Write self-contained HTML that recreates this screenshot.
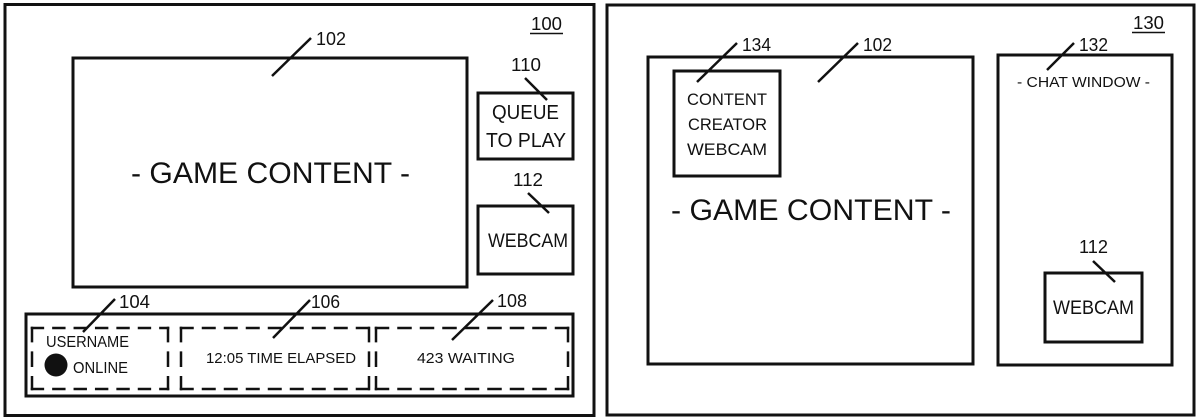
<!DOCTYPE html>
<html>
<head>
<meta charset="utf-8">
<style>
  html, body { margin: 0; padding: 0; background: #fff; }
  svg { display: block; }
  text { font-family: "Liberation Sans", sans-serif; fill: #111; }
</style>
</head>
<body>
<svg width="1200" height="420" viewBox="0 0 1200 420" xmlns="http://www.w3.org/2000/svg">
  <rect x="0" y="0" width="1200" height="420" fill="#fff"/>
  <g fill="none" stroke="#111" stroke-width="3">
    <!-- LEFT PANEL -->
    <rect x="5" y="4.5" width="589" height="411"/>
    <rect x="73" y="58" width="394" height="229"/>
    <rect x="478" y="93" width="95" height="66"/>
    <rect x="478" y="206" width="95" height="68"/>
    <rect x="26" y="314" width="547" height="82"/>
    <!-- RIGHT PANEL -->
    <rect x="607" y="5" width="587" height="410"/>
    <rect x="648" y="57" width="325" height="307"/>
    <rect x="674" y="71" width="106" height="105"/>
    <rect x="998" y="55" width="174" height="310"/>
    <rect x="1045" y="273" width="97" height="69"/>
  </g>

  <!-- dashed boxes -->
  <g fill="none" stroke="#111" stroke-width="2.5">
    <!-- box 1: x 32..168, y 328..389 -->
    <line x1="30.75" y1="328" x2="169.25" y2="328" stroke-dasharray="13.4 8"/>
    <line x1="30.75" y1="389" x2="169.25" y2="389" stroke-dasharray="13.4 8"/>
    <line x1="32" y1="326.75" x2="32" y2="390.25" stroke-dasharray="15.6 9"/>
    <line x1="168" y1="326.75" x2="168" y2="390.25" stroke-dasharray="15.6 9"/>
    <!-- box 2: x 181..369 -->
    <line x1="179.75" y1="328" x2="370.25" y2="328" stroke-dasharray="14 8"/>
    <line x1="179.75" y1="389" x2="370.25" y2="389" stroke-dasharray="14 8"/>
    <line x1="181" y1="326.75" x2="181" y2="390.25" stroke-dasharray="15.6 9"/>
    <line x1="369" y1="326.75" x2="369" y2="390.25" stroke-dasharray="15.6 9"/>
    <!-- box 3: x 376..568 -->
    <line x1="374.75" y1="328" x2="569.25" y2="328" stroke-dasharray="14.5 8"/>
    <line x1="374.75" y1="389" x2="569.25" y2="389" stroke-dasharray="14.5 8"/>
    <line x1="376" y1="326.75" x2="376" y2="390.25" stroke-dasharray="15.6 9"/>
    <line x1="568" y1="326.75" x2="568" y2="390.25" stroke-dasharray="15.6 9"/>
  </g>

  <!-- leader lines -->
  <g stroke="#111" stroke-width="2.5" stroke-linecap="butt">
    <line x1="272" y1="76" x2="311" y2="38"/>
    <line x1="525" y1="78" x2="547" y2="100"/>
    <line x1="528" y1="193" x2="549" y2="213"/>
    <line x1="83" y1="332" x2="115" y2="299"/>
    <line x1="273" y1="338" x2="310" y2="300"/>
    <line x1="452" y1="340" x2="493" y2="300"/>
    <line x1="697" y1="82" x2="737" y2="43"/>
    <line x1="818" y1="82" x2="858" y2="43"/>
    <line x1="1047" y1="70" x2="1074" y2="43"/>
    <line x1="1093" y1="261" x2="1115" y2="282"/>
  </g>

  <!-- underlines -->
  <g stroke="#111" stroke-width="1.5">
    <line x1="530" y1="33.5" x2="563" y2="33.5"/>
    <line x1="1132" y1="32.5" x2="1165" y2="32.5"/>
  </g>

  <!-- online dot -->
  <circle cx="56" cy="365" r="11.5" fill="#111"/>

  <!-- LEFT TEXT -->
  <text x="531" y="30" font-size="18" textLength="31" lengthAdjust="spacingAndGlyphs">100</text>
  <text x="316" y="45" font-size="18" textLength="30" lengthAdjust="spacingAndGlyphs">102</text>
  <text x="131" y="183" font-size="30" textLength="279" lengthAdjust="spacingAndGlyphs">- GAME CONTENT -</text>
  <text x="511" y="71" font-size="18" textLength="30" lengthAdjust="spacingAndGlyphs">110</text>
  <text x="492" y="119" font-size="20" textLength="67" lengthAdjust="spacingAndGlyphs">QUEUE</text>
  <text x="486" y="147" font-size="20" textLength="80" lengthAdjust="spacingAndGlyphs">TO PLAY</text>
  <text x="513" y="186" font-size="18" textLength="30" lengthAdjust="spacingAndGlyphs">112</text>
  <text x="488" y="247" font-size="19" textLength="80" lengthAdjust="spacingAndGlyphs">WEBCAM</text>
  <text x="119" y="308" font-size="18" textLength="31" lengthAdjust="spacingAndGlyphs">104</text>
  <text x="311" y="308" font-size="18" textLength="29" lengthAdjust="spacingAndGlyphs">106</text>
  <text x="497" y="307" font-size="18" textLength="30" lengthAdjust="spacingAndGlyphs">108</text>
  <text x="46" y="347" font-size="15.5" textLength="83" lengthAdjust="spacingAndGlyphs">USERNAME</text>
  <text x="73" y="373" font-size="15.5" textLength="55" lengthAdjust="spacingAndGlyphs">ONLINE</text>
  <text x="206" y="363" font-size="15" textLength="150" lengthAdjust="spacingAndGlyphs">12:05 TIME ELAPSED</text>
  <text x="417" y="363" font-size="15" textLength="98" lengthAdjust="spacingAndGlyphs">423 WAITING</text>

  <!-- RIGHT TEXT -->
  <text x="1133" y="29" font-size="18" textLength="31" lengthAdjust="spacingAndGlyphs">130</text>
  <text x="742" y="51" font-size="18" textLength="29" lengthAdjust="spacingAndGlyphs">134</text>
  <text x="863" y="51" font-size="18" textLength="29" lengthAdjust="spacingAndGlyphs">102</text>
  <text x="1079" y="51" font-size="18" textLength="29" lengthAdjust="spacingAndGlyphs">132</text>
  <text x="687" y="105" font-size="16.5" textLength="80" lengthAdjust="spacingAndGlyphs">CONTENT</text>
  <text x="688" y="130" font-size="16.5" textLength="79" lengthAdjust="spacingAndGlyphs">CREATOR</text>
  <text x="687" y="155" font-size="16.5" textLength="80" lengthAdjust="spacingAndGlyphs">WEBCAM</text>
  <text x="671" y="220" font-size="30" textLength="280" lengthAdjust="spacingAndGlyphs">- GAME CONTENT -</text>
  <text x="1017" y="87" font-size="15" textLength="133" lengthAdjust="spacingAndGlyphs">- CHAT WINDOW -</text>
  <text x="1079" y="253" font-size="18" textLength="29" lengthAdjust="spacingAndGlyphs">112</text>
  <text x="1053" y="314" font-size="19" textLength="81" lengthAdjust="spacingAndGlyphs">WEBCAM</text>
</svg>
</body>
</html>
